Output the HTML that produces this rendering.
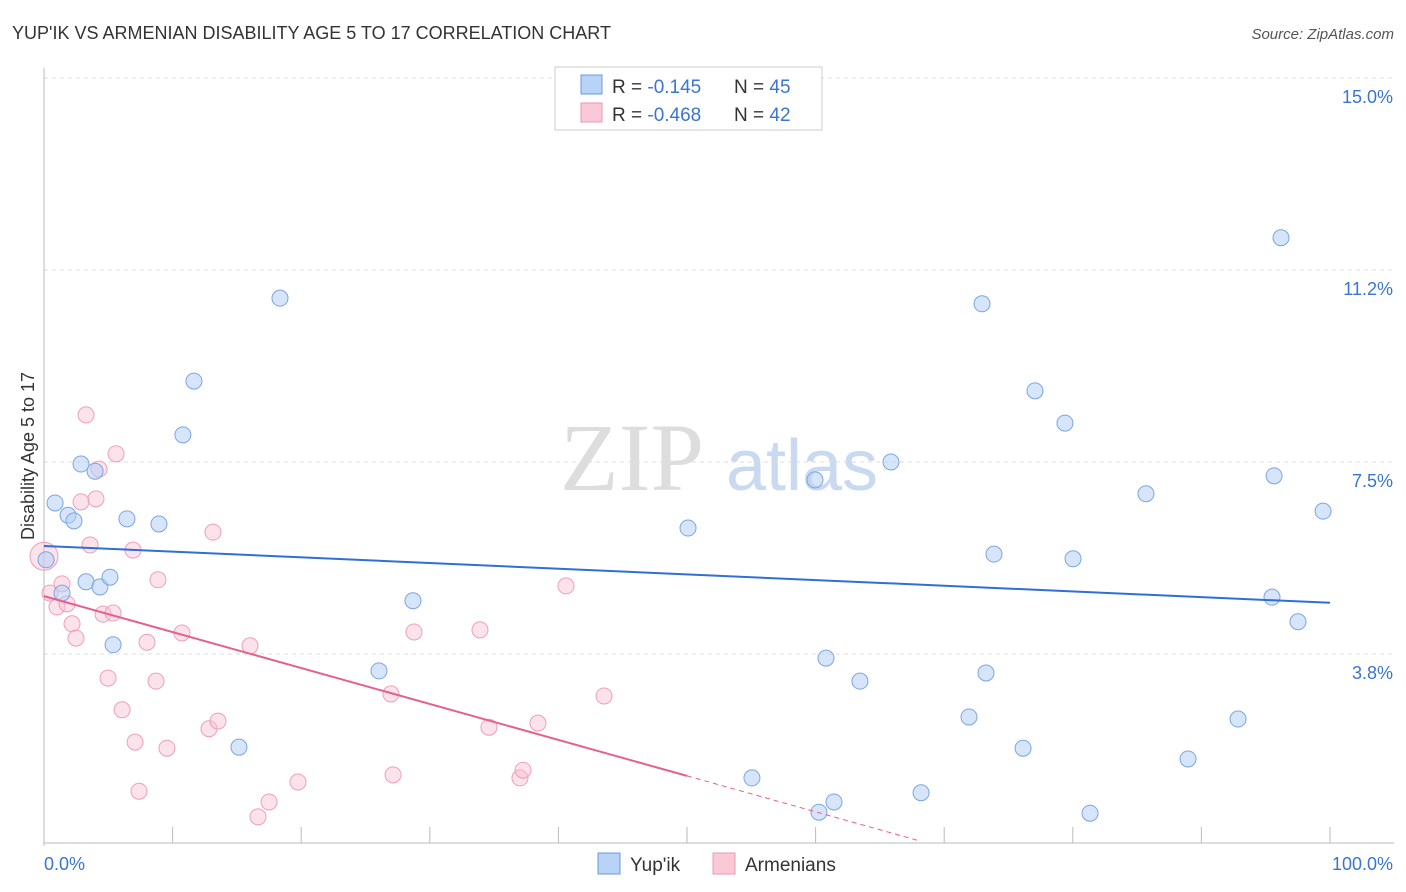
<!DOCTYPE html>
<html><head><meta charset="utf-8">
<style>
body{margin:0;background:#fff;font-family:"Liberation Sans",sans-serif;}
svg{display:block}
</style></head>
<body>
<svg id="chart" width="1406" height="892">
<text x="12" y="39" font-size="18" fill="#333">YUP'IK VS ARMENIAN DISABILITY AGE 5 TO 17 CORRELATION CHART</text>
<text x="1394" y="39" font-size="15" fill="#555" font-style="italic" text-anchor="end">Source: ZipAtlas.com</text>
<g>
<text x="632" y="490" font-size="96" fill="#ddd" font-family="Liberation Serif,serif" text-anchor="middle">ZIP</text>
<text x="802" y="490" font-size="72" fill="#c9d9f0" text-anchor="middle">atlas</text>
</g>
<g id="grid"></g>
<g id="axes"></g>
<g id="marks"></g>
<text transform="translate(34,456) rotate(-90)" font-size="18" fill="#333" text-anchor="middle">Disability Age 5 to 17</text>
<g>
<rect x="555" y="67" width="267" height="63" fill="#fff" stroke="#ccc"/>
<rect x="581" y="75" width="21" height="19" fill="#b8d3f5" stroke="#6a9be0"/>
<rect x="581" y="103" width="21" height="19" fill="#fac8d6" stroke="#e89ab0"/>
<text x="612" y="93" font-size="19" fill="#333">R = <tspan fill="#3a75d0">-0.145</tspan><tspan x="734">N = </tspan><tspan fill="#3a75d0">45</tspan></text>
<text x="612" y="121" font-size="19" fill="#333">R = <tspan fill="#3a75d0">-0.468</tspan><tspan x="734">N = </tspan><tspan fill="#3a75d0">42</tspan></text>
</g>
<g>
<rect x="598" y="853" width="22" height="21" fill="#b8d3f5" stroke="#6a9be0"/>
<text x="630" y="871" font-size="19" fill="#333">Yup'ik</text>
<rect x="713" y="853" width="22" height="21" fill="#fac8d6" stroke="#e89ab0"/>
<text x="745" y="871" font-size="19" fill="#333">Armenians</text>
</g>
</svg>
<script>
const yTicks=[15.0,11.25,7.5,3.75];
const yTickLabels=["15.0%","11.2%","7.5%","3.8%"];
const xTicks=[0,10,20,30,40,50,60,70,80,90,100];
const xEndLabels=["0.0%","100.0%"];
const yupikX=[0.16,0.86,1.4,1.87,2.33,2.88,3.97,3.27,4.35,5.13,5.37,6.45,8.94,10.8,11.66,15.16,18.35,26.05,28.69,50.08,55.05,59.95,60.26,60.81,61.43,63.45,65.86,68.2,71.93,72.94,73.25,73.87,76.13,77.06,79.39,80.02,81.34,85.69,88.96,92.85,95.49,95.65,96.19,97.51,99.46];
const yupikY=[5.59,6.70,4.94,6.46,6.35,7.46,7.32,5.16,5.06,5.25,3.93,6.39,6.29,8.03,9.08,1.93,10.70,3.42,4.79,6.21,1.33,7.15,0.66,3.67,0.86,3.22,7.5,1.04,2.52,10.59,3.38,5.70,1.91,8.89,8.26,5.61,0.64,6.88,1.70,2.48,4.86,7.23,11.88,4.38,6.54];
const armX=[0,0.47,1.01,1.4,1.79,2.18,2.49,2.88,3.27,3.58,4.04,4.28,4.59,4.98,5.37,5.6,6.07,6.92,7.08,7.39,8.01,8.71,8.86,9.56,10.73,12.83,13.14,13.53,16.02,16.64,17.5,19.75,26.98,27.14,28.77,33.9,34.6,37.01,37.25,38.41,40.59,43.55];
const armY=[5.66,4.94,4.67,5.12,4.73,4.34,4.06,6.72,8.42,5.88,6.78,7.36,4.53,3.28,4.55,7.66,2.66,5.78,2.03,1.07,3.98,3.22,5.2,1.91,4.16,2.29,6.13,2.44,3.91,0.57,0.86,1.25,2.97,1.39,4.18,4.22,2.32,1.33,1.48,2.4,5.08,2.93];
const yupikTrend=[5.86,4.75];
const armTrendStart=4.88, armTrendSlope=-0.0702, armSolidEnd=50, armDashEnd=68.2;

const NS="http://www.w3.org/2000/svg";
const X=v=>44+v*12.86;
const Y=v=>846-v*51.2;
function mk(tag,attrs,parent){const e=document.createElementNS(NS,tag);for(const k in attrs)e.setAttribute(k,attrs[k]);parent.appendChild(e);return e;}
const grid=document.getElementById('grid'),axes=document.getElementById('axes'),marks=document.getElementById('marks');
yTicks.forEach((t,i)=>{
 const l=mk('line',{x1:44,x2:1394,y1:Y(t),y2:Y(t),stroke:'#ddd','stroke-dasharray':'4,4'},grid);
 
 
 const tx=mk('text',{x:1393,y:Y(t)+25,'font-size':18,fill:'#3a75d0','text-anchor':'end'},axes);
 tx.textContent=yTickLabels[i];
 
 
});
const ya=mk('line',{x1:44,x2:44,y1:68,y2:846,stroke:'#bbb'},axes);


const xa=mk('line',{x1:44,x2:1394,y1:843,y2:843,stroke:'#bbb'},axes);


xTicks.forEach(t=>{
 const l=mk('line',{x1:X(t),x2:X(t),y1:827,y2:843,stroke:'#bbb'},axes);
 
 
});
const xl0=mk('text',{x:44,y:870,'font-size':18,fill:'#3a75d0'},axes);xl0.textContent=xEndLabels[0];


const xl1=mk('text',{x:1393,y:870,'font-size':18,fill:'#3a75d0','text-anchor':'end'},axes);xl1.textContent=xEndLabels[1];



armX.forEach((x,i)=>{
 const c=mk('circle',{cx:X(x),cy:Y(armY[i]),r:i===0?14:8,fill:'rgba(248,190,208,0.45)',stroke:'#eea0b8','stroke-width':1},marks);
 
 
});
yupikX.forEach((x,i)=>{
 const c=mk('circle',{cx:X(x),cy:Y(yupikY[i]),r:8,fill:'rgba(180,208,244,0.55)',stroke:'#7aa6e2','stroke-width':1},marks);
 
 
});
const bt=mk('line',{x1:X(0),y1:Y(yupikTrend[0]),x2:X(100),y2:Y(yupikTrend[1]),stroke:'#2f6fd6','stroke-width':2},marks);


const pt=mk('line',{x1:X(0),y1:Y(armTrendStart),x2:X(armSolidEnd),y2:Y(armTrendStart+armTrendSlope*armSolidEnd),stroke:'#e4608d','stroke-width':2},marks);


const pd=mk('line',{x1:X(armSolidEnd),y1:Y(armTrendStart+armTrendSlope*armSolidEnd),x2:X(armDashEnd),y2:Y(armTrendStart+armTrendSlope*armDashEnd),stroke:'#e4608d','stroke-width':1,'stroke-dasharray':'5,4'},marks);


</script>
</body></html>
